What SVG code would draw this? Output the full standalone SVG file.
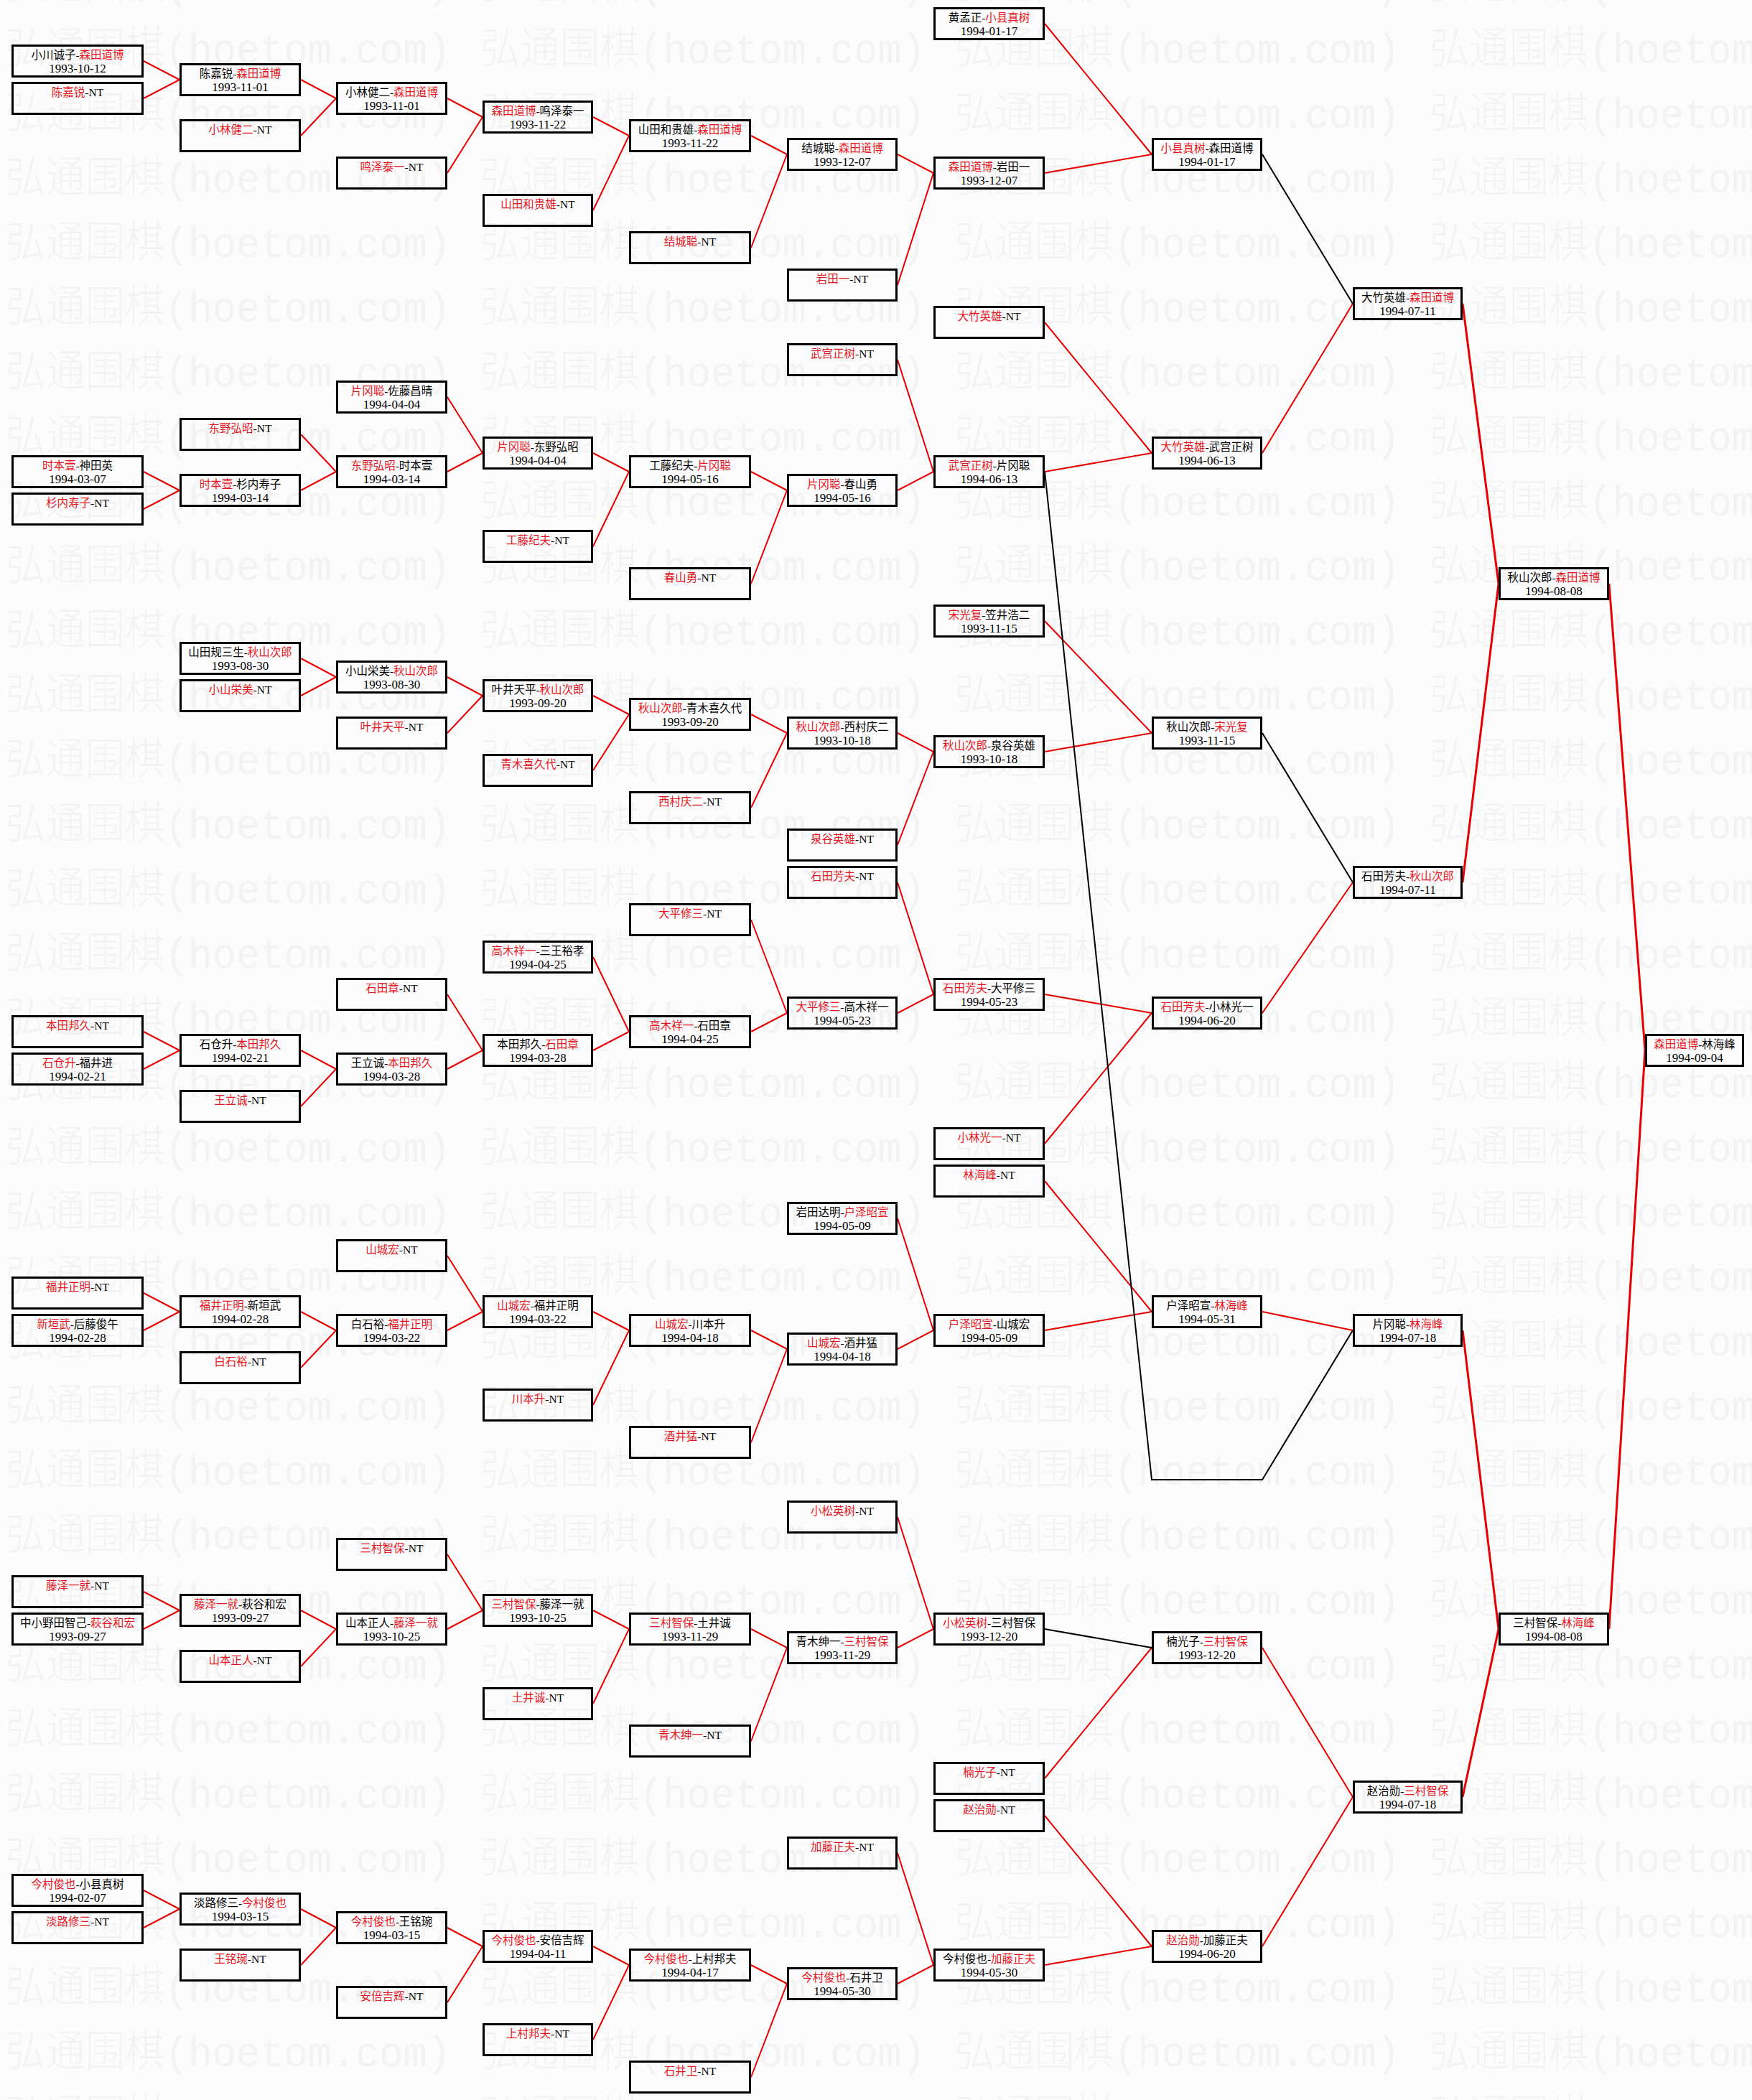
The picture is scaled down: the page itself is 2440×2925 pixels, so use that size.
<svg xmlns="http://www.w3.org/2000/svg" width="2440" height="2925" viewBox="0 0 2440 2925">
<style>
.bx{fill:none;stroke:#000;stroke-width:3}
.nm{font-family:'Liberation Serif','Noto Sans CJK SC',serif;font-size:15.5px;text-anchor:middle;fill:#000}
.dt{font-family:'Liberation Serif',serif;font-size:17px;text-anchor:middle;fill:#000}
.r{fill:#e8141c}
.lr{stroke:#e80000;stroke-width:2;fill:none}
.lr3{stroke:#e80000;stroke-width:3;fill:none}
.lb{stroke:#000;stroke-width:2;fill:none}
.wm{font-family:'Liberation Mono','Noto Sans CJK SC',monospace;font-size:60px;font-weight:300;fill:#f3f3f3}
</style>
<defs>
<pattern id="wmp" patternUnits="userSpaceOnUse" x="8" y="30" width="661" height="90">
<text class="wm" x="0" y="58" textLength="620" lengthAdjust="spacingAndGlyphs">弘通围棋(hoetom.com)</text>
</pattern>
</defs>
<rect x="0" y="0" width="2440" height="2925" fill="#fcfcfc"/>
<rect x="0" y="0" width="2440" height="2925" fill="url(#wmp)"/>
<g id="connectors">
<path class="lr" d="M200 85L250 111M200 137L250 111M200 657L250 683M200 709L250 683M200 1437L250 1463M200 1489L250 1463M200 1801L250 1827M200 1853L250 1827M200 2217L250 2243M200 2269L250 2243M200 2633L250 2659M200 2685L250 2659"/>
<path class="lr" d="M419 111L468 137M419 189L468 137M419 605L468 657M419 683L468 657M419 917L468 943M419 969L468 943M419 1463L468 1489M419 1541L468 1489M419 1827L468 1853M419 1905L468 1853M419 2243L468 2269M419 2321L468 2269M419 2659L468 2685M419 2737L468 2685"/>
<path class="lr" d="M623 137L672 163M623 241L672 163M623 553L672 631M623 657L672 631M623 943L672 969M623 1021L672 969M623 1385L672 1463M623 1489L672 1463M623 1749L672 1827M623 1853L672 1827M623 2165L672 2243M623 2269L672 2243M623 2685L672 2711M623 2789L672 2711"/>
<path class="lr" d="M826 163L876 189M826 293L876 189M826 631L876 657M826 761L876 657M826 969L876 995M826 1073L876 995M826 1333L876 1437M826 1463L876 1437M826 1827L876 1853M826 1957L876 1853M826 2243L876 2269M826 2373L876 2269M826 2711L876 2737M826 2841L876 2737"/>
<path class="lr" d="M1046 189L1096 215M1046 345L1096 215M1046 657L1096 683M1046 813L1096 683M1046 995L1096 1021M1046 1125L1096 1021M1046 1281L1096 1411M1046 1437L1096 1411M1046 1853L1096 1879M1046 2009L1096 1879M1046 2269L1096 2295M1046 2425L1096 2295M1046 2737L1096 2763M1046 2893L1096 2763"/>
<path class="lr" d="M1250 215L1300 241M1250 397L1300 241M1250 501L1300 657M1250 683L1300 657M1250 1021L1300 1047M1250 1177L1300 1047M1250 1229L1300 1385M1250 1411L1300 1385M1250 1697L1300 1853M1250 1879L1300 1853M1250 2113L1300 2269M1250 2295L1300 2269M1250 2581L1300 2737M1250 2763L1300 2737"/>
<path class="lr" d="M1455 33L1604 215M1455 241L1604 215M1455 449L1604 631M1455 657L1604 631M1455 865L1604 1021M1455 1047L1604 1021M1455 1385L1604 1411M1455 1593L1604 1411M1455 1645L1604 1827M1455 1853L1604 1827M1455 2477L1604 2295M1455 2529L1604 2711M1455 2737L1604 2711"/>
<path class="lb" d="M1455 2269L1604 2295"/>
<path class="lb" d="M1455 657L1604 2061L1758 2061L1884 1853"/>
<path class="lb" d="M1758 215L1884 423M1758 1021L1884 1229"/>
<path class="lr" d="M1758 631L1884 423M1758 1411L1884 1229M1758 1827L1884 1853M1758 2295L1884 2503M1758 2711L1884 2503"/>
<path class="lr3" d="M2037 423L2087 813M2037 1229L2087 813M2037 1853L2087 2269M2037 2503L2087 2269"/>
<path class="lr3" d="M2241 813L2291 1463M2241 2269L2291 1463"/>
</g>
<g id="c0k2"><rect class="bx" x="17.5" y="63.5" width="181" height="43"/><text class="nm" x="108" y="82">小川诚子-<tspan class="r">森田道博</tspan></text><text class="dt" x="108" y="101">1993-10-12</text></g>
<g id="c0k4"><rect class="bx" x="17.5" y="115.5" width="181" height="43"/><text class="nm" x="108" y="134"><tspan class="r">陈嘉锐</tspan>-NT</text></g>
<g id="c0k24"><rect class="bx" x="17.5" y="635.5" width="181" height="43"/><text class="nm" x="108" y="654"><tspan class="r">时本壹</tspan>-神田英</text><text class="dt" x="108" y="673">1994-03-07</text></g>
<g id="c0k26"><rect class="bx" x="17.5" y="687.5" width="181" height="43"/><text class="nm" x="108" y="706"><tspan class="r">杉内寿子</tspan>-NT</text></g>
<g id="c0k54"><rect class="bx" x="17.5" y="1415.5" width="181" height="43"/><text class="nm" x="108" y="1434"><tspan class="r">本田邦久</tspan>-NT</text></g>
<g id="c0k56"><rect class="bx" x="17.5" y="1467.5" width="181" height="43"/><text class="nm" x="108" y="1486"><tspan class="r">石仓升</tspan>-福井进</text><text class="dt" x="108" y="1505">1994-02-21</text></g>
<g id="c0k68"><rect class="bx" x="17.5" y="1779.5" width="181" height="43"/><text class="nm" x="108" y="1798"><tspan class="r">福井正明</tspan>-NT</text></g>
<g id="c0k70"><rect class="bx" x="17.5" y="1831.5" width="181" height="43"/><text class="nm" x="108" y="1850"><tspan class="r">新垣武</tspan>-后藤俊午</text><text class="dt" x="108" y="1869">1994-02-28</text></g>
<g id="c0k84"><rect class="bx" x="17.5" y="2195.5" width="181" height="43"/><text class="nm" x="108" y="2214"><tspan class="r">藤泽一就</tspan>-NT</text></g>
<g id="c0k86"><rect class="bx" x="17.5" y="2247.5" width="181" height="43"/><text class="nm" x="108" y="2266">中小野田智己-<tspan class="r">萩谷和宏</tspan></text><text class="dt" x="108" y="2285">1993-09-27</text></g>
<g id="c0k100"><rect class="bx" x="17.5" y="2611.5" width="181" height="43"/><text class="nm" x="108" y="2630"><tspan class="r">今村俊也</tspan>-小县真树</text><text class="dt" x="108" y="2649">1994-02-07</text></g>
<g id="c0k102"><rect class="bx" x="17.5" y="2663.5" width="181" height="43"/><text class="nm" x="108" y="2682"><tspan class="r">淡路修三</tspan>-NT</text></g>
<g id="c1k3"><rect class="bx" x="251.5" y="89.5" width="166" height="43"/><text class="nm" x="334.5" y="108">陈嘉锐-<tspan class="r">森田道博</tspan></text><text class="dt" x="334.5" y="127">1993-11-01</text></g>
<g id="c1k6"><rect class="bx" x="251.5" y="167.5" width="166" height="43"/><text class="nm" x="334.5" y="186"><tspan class="r">小林健二</tspan>-NT</text></g>
<g id="c1k22"><rect class="bx" x="251.5" y="583.5" width="166" height="43"/><text class="nm" x="334.5" y="602"><tspan class="r">东野弘昭</tspan>-NT</text></g>
<g id="c1k25"><rect class="bx" x="251.5" y="661.5" width="166" height="43"/><text class="nm" x="334.5" y="680"><tspan class="r">时本壹</tspan>-杉内寿子</text><text class="dt" x="334.5" y="699">1994-03-14</text></g>
<g id="c1k34"><rect class="bx" x="251.5" y="895.5" width="166" height="43"/><text class="nm" x="334.5" y="914">山田规三生-<tspan class="r">秋山次郎</tspan></text><text class="dt" x="334.5" y="933">1993-08-30</text></g>
<g id="c1k36"><rect class="bx" x="251.5" y="947.5" width="166" height="43"/><text class="nm" x="334.5" y="966"><tspan class="r">小山栄美</tspan>-NT</text></g>
<g id="c1k55"><rect class="bx" x="251.5" y="1441.5" width="166" height="43"/><text class="nm" x="334.5" y="1460">石仓升-<tspan class="r">本田邦久</tspan></text><text class="dt" x="334.5" y="1479">1994-02-21</text></g>
<g id="c1k58"><rect class="bx" x="251.5" y="1519.5" width="166" height="43"/><text class="nm" x="334.5" y="1538"><tspan class="r">王立诚</tspan>-NT</text></g>
<g id="c1k69"><rect class="bx" x="251.5" y="1805.5" width="166" height="43"/><text class="nm" x="334.5" y="1824"><tspan class="r">福井正明</tspan>-新垣武</text><text class="dt" x="334.5" y="1843">1994-02-28</text></g>
<g id="c1k72"><rect class="bx" x="251.5" y="1883.5" width="166" height="43"/><text class="nm" x="334.5" y="1902"><tspan class="r">白石裕</tspan>-NT</text></g>
<g id="c1k85"><rect class="bx" x="251.5" y="2221.5" width="166" height="43"/><text class="nm" x="334.5" y="2240"><tspan class="r">藤泽一就</tspan>-萩谷和宏</text><text class="dt" x="334.5" y="2259">1993-09-27</text></g>
<g id="c1k88"><rect class="bx" x="251.5" y="2299.5" width="166" height="43"/><text class="nm" x="334.5" y="2318"><tspan class="r">山本正人</tspan>-NT</text></g>
<g id="c1k101"><rect class="bx" x="251.5" y="2637.5" width="166" height="43"/><text class="nm" x="334.5" y="2656">淡路修三-<tspan class="r">今村俊也</tspan></text><text class="dt" x="334.5" y="2675">1994-03-15</text></g>
<g id="c1k104"><rect class="bx" x="251.5" y="2715.5" width="166" height="43"/><text class="nm" x="334.5" y="2734"><tspan class="r">王铭琬</tspan>-NT</text></g>
<g id="c2k4"><rect class="bx" x="469.5" y="115.5" width="152" height="43"/><text class="nm" x="545.5" y="134">小林健二-<tspan class="r">森田道博</tspan></text><text class="dt" x="545.5" y="153">1993-11-01</text></g>
<g id="c2k8"><rect class="bx" x="469.5" y="219.5" width="152" height="43"/><text class="nm" x="545.5" y="238"><tspan class="r">鸣泽泰一</tspan>-NT</text></g>
<g id="c2k20"><rect class="bx" x="469.5" y="531.5" width="152" height="43"/><text class="nm" x="545.5" y="550"><tspan class="r">片冈聪</tspan>-佐藤昌晴</text><text class="dt" x="545.5" y="569">1994-04-04</text></g>
<g id="c2k24"><rect class="bx" x="469.5" y="635.5" width="152" height="43"/><text class="nm" x="545.5" y="654"><tspan class="r">东野弘昭</tspan>-时本壹</text><text class="dt" x="545.5" y="673">1994-03-14</text></g>
<g id="c2k35"><rect class="bx" x="469.5" y="921.5" width="152" height="43"/><text class="nm" x="545.5" y="940">小山栄美-<tspan class="r">秋山次郎</tspan></text><text class="dt" x="545.5" y="959">1993-08-30</text></g>
<g id="c2k38"><rect class="bx" x="469.5" y="999.5" width="152" height="43"/><text class="nm" x="545.5" y="1018"><tspan class="r">叶井天平</tspan>-NT</text></g>
<g id="c2k52"><rect class="bx" x="469.5" y="1363.5" width="152" height="43"/><text class="nm" x="545.5" y="1382"><tspan class="r">石田章</tspan>-NT</text></g>
<g id="c2k56"><rect class="bx" x="469.5" y="1467.5" width="152" height="43"/><text class="nm" x="545.5" y="1486">王立诚-<tspan class="r">本田邦久</tspan></text><text class="dt" x="545.5" y="1505">1994-03-28</text></g>
<g id="c2k66"><rect class="bx" x="469.5" y="1727.5" width="152" height="43"/><text class="nm" x="545.5" y="1746"><tspan class="r">山城宏</tspan>-NT</text></g>
<g id="c2k70"><rect class="bx" x="469.5" y="1831.5" width="152" height="43"/><text class="nm" x="545.5" y="1850">白石裕-<tspan class="r">福井正明</tspan></text><text class="dt" x="545.5" y="1869">1994-03-22</text></g>
<g id="c2k82"><rect class="bx" x="469.5" y="2143.5" width="152" height="43"/><text class="nm" x="545.5" y="2162"><tspan class="r">三村智保</tspan>-NT</text></g>
<g id="c2k86"><rect class="bx" x="469.5" y="2247.5" width="152" height="43"/><text class="nm" x="545.5" y="2266">山本正人-<tspan class="r">藤泽一就</tspan></text><text class="dt" x="545.5" y="2285">1993-10-25</text></g>
<g id="c2k102"><rect class="bx" x="469.5" y="2663.5" width="152" height="43"/><text class="nm" x="545.5" y="2682"><tspan class="r">今村俊也</tspan>-王铭琬</text><text class="dt" x="545.5" y="2701">1994-03-15</text></g>
<g id="c2k106"><rect class="bx" x="469.5" y="2767.5" width="152" height="43"/><text class="nm" x="545.5" y="2786"><tspan class="r">安倍吉辉</tspan>-NT</text></g>
<g id="c3k5"><rect class="bx" x="673.5" y="141.5" width="151" height="43"/><text class="nm" x="749" y="160"><tspan class="r">森田道博</tspan>-鸣泽泰一</text><text class="dt" x="749" y="179">1993-11-22</text></g>
<g id="c3k10"><rect class="bx" x="673.5" y="271.5" width="151" height="43"/><text class="nm" x="749" y="290"><tspan class="r">山田和贵雄</tspan>-NT</text></g>
<g id="c3k23"><rect class="bx" x="673.5" y="609.5" width="151" height="43"/><text class="nm" x="749" y="628"><tspan class="r">片冈聪</tspan>-东野弘昭</text><text class="dt" x="749" y="647">1994-04-04</text></g>
<g id="c3k28"><rect class="bx" x="673.5" y="739.5" width="151" height="43"/><text class="nm" x="749" y="758"><tspan class="r">工藤纪夫</tspan>-NT</text></g>
<g id="c3k36"><rect class="bx" x="673.5" y="947.5" width="151" height="43"/><text class="nm" x="749" y="966">叶井天平-<tspan class="r">秋山次郎</tspan></text><text class="dt" x="749" y="985">1993-09-20</text></g>
<g id="c3k40"><rect class="bx" x="673.5" y="1051.5" width="151" height="43"/><text class="nm" x="749" y="1070"><tspan class="r">青木喜久代</tspan>-NT</text></g>
<g id="c3k50"><rect class="bx" x="673.5" y="1311.5" width="151" height="43"/><text class="nm" x="749" y="1330"><tspan class="r">高木祥一</tspan>-三王裕孝</text><text class="dt" x="749" y="1349">1994-04-25</text></g>
<g id="c3k55"><rect class="bx" x="673.5" y="1441.5" width="151" height="43"/><text class="nm" x="749" y="1460">本田邦久-<tspan class="r">石田章</tspan></text><text class="dt" x="749" y="1479">1994-03-28</text></g>
<g id="c3k69"><rect class="bx" x="673.5" y="1805.5" width="151" height="43"/><text class="nm" x="749" y="1824"><tspan class="r">山城宏</tspan>-福井正明</text><text class="dt" x="749" y="1843">1994-03-22</text></g>
<g id="c3k74"><rect class="bx" x="673.5" y="1935.5" width="151" height="43"/><text class="nm" x="749" y="1954"><tspan class="r">川本升</tspan>-NT</text></g>
<g id="c3k85"><rect class="bx" x="673.5" y="2221.5" width="151" height="43"/><text class="nm" x="749" y="2240"><tspan class="r">三村智保</tspan>-藤泽一就</text><text class="dt" x="749" y="2259">1993-10-25</text></g>
<g id="c3k90"><rect class="bx" x="673.5" y="2351.5" width="151" height="43"/><text class="nm" x="749" y="2370"><tspan class="r">土井诚</tspan>-NT</text></g>
<g id="c3k103"><rect class="bx" x="673.5" y="2689.5" width="151" height="43"/><text class="nm" x="749" y="2708"><tspan class="r">今村俊也</tspan>-安倍吉辉</text><text class="dt" x="749" y="2727">1994-04-11</text></g>
<g id="c3k108"><rect class="bx" x="673.5" y="2819.5" width="151" height="43"/><text class="nm" x="749" y="2838"><tspan class="r">上村邦夫</tspan>-NT</text></g>
<g id="c4k6"><rect class="bx" x="877.5" y="167.5" width="167" height="43"/><text class="nm" x="961" y="186">山田和贵雄-<tspan class="r">森田道博</tspan></text><text class="dt" x="961" y="205">1993-11-22</text></g>
<g id="c4k12"><rect class="bx" x="877.5" y="323.5" width="167" height="43"/><text class="nm" x="961" y="342"><tspan class="r">结城聪</tspan>-NT</text></g>
<g id="c4k24"><rect class="bx" x="877.5" y="635.5" width="167" height="43"/><text class="nm" x="961" y="654">工藤纪夫-<tspan class="r">片冈聪</tspan></text><text class="dt" x="961" y="673">1994-05-16</text></g>
<g id="c4k30"><rect class="bx" x="877.5" y="791.5" width="167" height="43"/><text class="nm" x="961" y="810"><tspan class="r">春山勇</tspan>-NT</text></g>
<g id="c4k37"><rect class="bx" x="877.5" y="973.5" width="167" height="43"/><text class="nm" x="961" y="992"><tspan class="r">秋山次郎</tspan>-青木喜久代</text><text class="dt" x="961" y="1011">1993-09-20</text></g>
<g id="c4k42"><rect class="bx" x="877.5" y="1103.5" width="167" height="43"/><text class="nm" x="961" y="1122"><tspan class="r">西村庆二</tspan>-NT</text></g>
<g id="c4k48"><rect class="bx" x="877.5" y="1259.5" width="167" height="43"/><text class="nm" x="961" y="1278"><tspan class="r">大平修三</tspan>-NT</text></g>
<g id="c4k54"><rect class="bx" x="877.5" y="1415.5" width="167" height="43"/><text class="nm" x="961" y="1434"><tspan class="r">高木祥一</tspan>-石田章</text><text class="dt" x="961" y="1453">1994-04-25</text></g>
<g id="c4k70"><rect class="bx" x="877.5" y="1831.5" width="167" height="43"/><text class="nm" x="961" y="1850"><tspan class="r">山城宏</tspan>-川本升</text><text class="dt" x="961" y="1869">1994-04-18</text></g>
<g id="c4k76"><rect class="bx" x="877.5" y="1987.5" width="167" height="43"/><text class="nm" x="961" y="2006"><tspan class="r">酒井猛</tspan>-NT</text></g>
<g id="c4k86"><rect class="bx" x="877.5" y="2247.5" width="167" height="43"/><text class="nm" x="961" y="2266"><tspan class="r">三村智保</tspan>-土井诚</text><text class="dt" x="961" y="2285">1993-11-29</text></g>
<g id="c4k92"><rect class="bx" x="877.5" y="2403.5" width="167" height="43"/><text class="nm" x="961" y="2422"><tspan class="r">青木绅一</tspan>-NT</text></g>
<g id="c4k104"><rect class="bx" x="877.5" y="2715.5" width="167" height="43"/><text class="nm" x="961" y="2734"><tspan class="r">今村俊也</tspan>-上村邦夫</text><text class="dt" x="961" y="2753">1994-04-17</text></g>
<g id="c4k110"><rect class="bx" x="877.5" y="2871.5" width="167" height="43"/><text class="nm" x="961" y="2890"><tspan class="r">石井卫</tspan>-NT</text></g>
<g id="c5k7"><rect class="bx" x="1097.5" y="193.5" width="151" height="43"/><text class="nm" x="1173" y="212">结城聪-<tspan class="r">森田道博</tspan></text><text class="dt" x="1173" y="231">1993-12-07</text></g>
<g id="c5k14"><rect class="bx" x="1097.5" y="375.5" width="151" height="43"/><text class="nm" x="1173" y="394"><tspan class="r">岩田一</tspan>-NT</text></g>
<g id="c5k18"><rect class="bx" x="1097.5" y="479.5" width="151" height="43"/><text class="nm" x="1173" y="498"><tspan class="r">武宫正树</tspan>-NT</text></g>
<g id="c5k25"><rect class="bx" x="1097.5" y="661.5" width="151" height="43"/><text class="nm" x="1173" y="680"><tspan class="r">片冈聪</tspan>-春山勇</text><text class="dt" x="1173" y="699">1994-05-16</text></g>
<g id="c5k38"><rect class="bx" x="1097.5" y="999.5" width="151" height="43"/><text class="nm" x="1173" y="1018"><tspan class="r">秋山次郎</tspan>-西村庆二</text><text class="dt" x="1173" y="1037">1993-10-18</text></g>
<g id="c5k44"><rect class="bx" x="1097.5" y="1155.5" width="151" height="43"/><text class="nm" x="1173" y="1174"><tspan class="r">泉谷英雄</tspan>-NT</text></g>
<g id="c5k46"><rect class="bx" x="1097.5" y="1207.5" width="151" height="43"/><text class="nm" x="1173" y="1226"><tspan class="r">石田芳夫</tspan>-NT</text></g>
<g id="c5k53"><rect class="bx" x="1097.5" y="1389.5" width="151" height="43"/><text class="nm" x="1173" y="1408"><tspan class="r">大平修三</tspan>-高木祥一</text><text class="dt" x="1173" y="1427">1994-05-23</text></g>
<g id="c5k64"><rect class="bx" x="1097.5" y="1675.5" width="151" height="43"/><text class="nm" x="1173" y="1694">岩田达明-<tspan class="r">户泽昭宣</tspan></text><text class="dt" x="1173" y="1713">1994-05-09</text></g>
<g id="c5k71"><rect class="bx" x="1097.5" y="1857.5" width="151" height="43"/><text class="nm" x="1173" y="1876"><tspan class="r">山城宏</tspan>-酒井猛</text><text class="dt" x="1173" y="1895">1994-04-18</text></g>
<g id="c5k80"><rect class="bx" x="1097.5" y="2091.5" width="151" height="43"/><text class="nm" x="1173" y="2110"><tspan class="r">小松英树</tspan>-NT</text></g>
<g id="c5k87"><rect class="bx" x="1097.5" y="2273.5" width="151" height="43"/><text class="nm" x="1173" y="2292">青木绅一-<tspan class="r">三村智保</tspan></text><text class="dt" x="1173" y="2311">1993-11-29</text></g>
<g id="c5k98"><rect class="bx" x="1097.5" y="2559.5" width="151" height="43"/><text class="nm" x="1173" y="2578"><tspan class="r">加藤正夫</tspan>-NT</text></g>
<g id="c5k105"><rect class="bx" x="1097.5" y="2741.5" width="151" height="43"/><text class="nm" x="1173" y="2760"><tspan class="r">今村俊也</tspan>-石井卫</text><text class="dt" x="1173" y="2779">1994-05-30</text></g>
<g id="c6k0"><rect class="bx" x="1301.5" y="11.5" width="152" height="43"/><text class="nm" x="1377.5" y="30">黄孟正-<tspan class="r">小县真树</tspan></text><text class="dt" x="1377.5" y="49">1994-01-17</text></g>
<g id="c6k8"><rect class="bx" x="1301.5" y="219.5" width="152" height="43"/><text class="nm" x="1377.5" y="238"><tspan class="r">森田道博</tspan>-岩田一</text><text class="dt" x="1377.5" y="257">1993-12-07</text></g>
<g id="c6k16"><rect class="bx" x="1301.5" y="427.5" width="152" height="43"/><text class="nm" x="1377.5" y="446"><tspan class="r">大竹英雄</tspan>-NT</text></g>
<g id="c6k24"><rect class="bx" x="1301.5" y="635.5" width="152" height="43"/><text class="nm" x="1377.5" y="654"><tspan class="r">武宫正树</tspan>-片冈聪</text><text class="dt" x="1377.5" y="673">1994-06-13</text></g>
<g id="c6k32"><rect class="bx" x="1301.5" y="843.5" width="152" height="43"/><text class="nm" x="1377.5" y="862"><tspan class="r">宋光复</tspan>-笠井浩二</text><text class="dt" x="1377.5" y="881">1993-11-15</text></g>
<g id="c6k39"><rect class="bx" x="1301.5" y="1025.5" width="152" height="43"/><text class="nm" x="1377.5" y="1044"><tspan class="r">秋山次郎</tspan>-泉谷英雄</text><text class="dt" x="1377.5" y="1063">1993-10-18</text></g>
<g id="c6k52"><rect class="bx" x="1301.5" y="1363.5" width="152" height="43"/><text class="nm" x="1377.5" y="1382"><tspan class="r">石田芳夫</tspan>-大平修三</text><text class="dt" x="1377.5" y="1401">1994-05-23</text></g>
<g id="c6k60"><rect class="bx" x="1301.5" y="1571.5" width="152" height="43"/><text class="nm" x="1377.5" y="1590"><tspan class="r">小林光一</tspan>-NT</text></g>
<g id="c6k62"><rect class="bx" x="1301.5" y="1623.5" width="152" height="43"/><text class="nm" x="1377.5" y="1642"><tspan class="r">林海峰</tspan>-NT</text></g>
<g id="c6k70"><rect class="bx" x="1301.5" y="1831.5" width="152" height="43"/><text class="nm" x="1377.5" y="1850"><tspan class="r">户泽昭宣</tspan>-山城宏</text><text class="dt" x="1377.5" y="1869">1994-05-09</text></g>
<g id="c6k86"><rect class="bx" x="1301.5" y="2247.5" width="152" height="43"/><text class="nm" x="1377.5" y="2266"><tspan class="r">小松英树</tspan>-三村智保</text><text class="dt" x="1377.5" y="2285">1993-12-20</text></g>
<g id="c6k94"><rect class="bx" x="1301.5" y="2455.5" width="152" height="43"/><text class="nm" x="1377.5" y="2474"><tspan class="r">楠光子</tspan>-NT</text></g>
<g id="c6k96"><rect class="bx" x="1301.5" y="2507.5" width="152" height="43"/><text class="nm" x="1377.5" y="2526"><tspan class="r">赵治勋</tspan>-NT</text></g>
<g id="c6k104"><rect class="bx" x="1301.5" y="2715.5" width="152" height="43"/><text class="nm" x="1377.5" y="2734">今村俊也-<tspan class="r">加藤正夫</tspan></text><text class="dt" x="1377.5" y="2753">1994-05-30</text></g>
<g id="c7k7"><rect class="bx" x="1605.5" y="193.5" width="151" height="43"/><text class="nm" x="1681" y="212"><tspan class="r">小县真树</tspan>-森田道博</text><text class="dt" x="1681" y="231">1994-01-17</text></g>
<g id="c7k23"><rect class="bx" x="1605.5" y="609.5" width="151" height="43"/><text class="nm" x="1681" y="628"><tspan class="r">大竹英雄</tspan>-武宫正树</text><text class="dt" x="1681" y="647">1994-06-13</text></g>
<g id="c7k38"><rect class="bx" x="1605.5" y="999.5" width="151" height="43"/><text class="nm" x="1681" y="1018">秋山次郎-<tspan class="r">宋光复</tspan></text><text class="dt" x="1681" y="1037">1993-11-15</text></g>
<g id="c7k53"><rect class="bx" x="1605.5" y="1389.5" width="151" height="43"/><text class="nm" x="1681" y="1408"><tspan class="r">石田芳夫</tspan>-小林光一</text><text class="dt" x="1681" y="1427">1994-06-20</text></g>
<g id="c7k69"><rect class="bx" x="1605.5" y="1805.5" width="151" height="43"/><text class="nm" x="1681" y="1824">户泽昭宣-<tspan class="r">林海峰</tspan></text><text class="dt" x="1681" y="1843">1994-05-31</text></g>
<g id="c7k87"><rect class="bx" x="1605.5" y="2273.5" width="151" height="43"/><text class="nm" x="1681" y="2292">楠光子-<tspan class="r">三村智保</tspan></text><text class="dt" x="1681" y="2311">1993-12-20</text></g>
<g id="c7k103"><rect class="bx" x="1605.5" y="2689.5" width="151" height="43"/><text class="nm" x="1681" y="2708"><tspan class="r">赵治勋</tspan>-加藤正夫</text><text class="dt" x="1681" y="2727">1994-06-20</text></g>
<g id="c8k15"><rect class="bx" x="1885.5" y="401.5" width="150" height="43"/><text class="nm" x="1960.5" y="420">大竹英雄-<tspan class="r">森田道博</tspan></text><text class="dt" x="1960.5" y="439">1994-07-11</text></g>
<g id="c8k46"><rect class="bx" x="1885.5" y="1207.5" width="150" height="43"/><text class="nm" x="1960.5" y="1226">石田芳夫-<tspan class="r">秋山次郎</tspan></text><text class="dt" x="1960.5" y="1245">1994-07-11</text></g>
<g id="c8k70"><rect class="bx" x="1885.5" y="1831.5" width="150" height="43"/><text class="nm" x="1960.5" y="1850">片冈聪-<tspan class="r">林海峰</tspan></text><text class="dt" x="1960.5" y="1869">1994-07-18</text></g>
<g id="c8k95"><rect class="bx" x="1885.5" y="2481.5" width="150" height="43"/><text class="nm" x="1960.5" y="2500">赵治勋-<tspan class="r">三村智保</tspan></text><text class="dt" x="1960.5" y="2519">1994-07-18</text></g>
<g id="c9k30"><rect class="bx" x="2088.5" y="791.5" width="151" height="43"/><text class="nm" x="2164" y="810">秋山次郎-<tspan class="r">森田道博</tspan></text><text class="dt" x="2164" y="829">1994-08-08</text></g>
<g id="c9k86"><rect class="bx" x="2088.5" y="2247.5" width="151" height="43"/><text class="nm" x="2164" y="2266">三村智保-<tspan class="r">林海峰</tspan></text><text class="dt" x="2164" y="2285">1994-08-08</text></g>
<g id="c10k55"><rect class="bx" x="2292.5" y="1441.5" width="135" height="43"/><text class="nm" x="2360" y="1460"><tspan class="r">森田道博</tspan>-林海峰</text><text class="dt" x="2360" y="1479">1994-09-04</text></g>
</svg>
